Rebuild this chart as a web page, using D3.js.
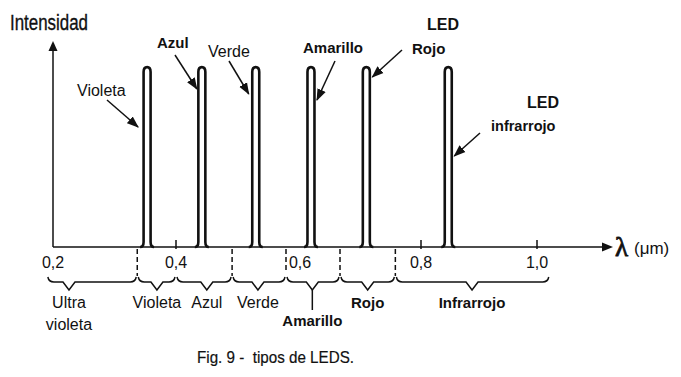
<!DOCTYPE html>
<html>
<head>
<meta charset="utf-8">
<script src="https://cdn.jsdelivr.net/npm/d3@7"></script>
<style>
  body { margin: 0; background: #fff; }
  svg { display: block; }
  text { fill: #111; font-family: "Liberation Sans", Arial, sans-serif; }
</style>
</head>
<body>
<div id="chart"></div>
<script>
// wavelength axis (µm)
var tickValues = [0.2, 0.4, 0.6, 0.8, 1.0];
var tickLabels = ["0,2", "0,4", "0,6", "0,8", "1,0"];

// LED emission peaks
var ledNames = ["Violeta", "Azul", "Verde", "Amarillo", "Rojo", "infrarrojo"];
var ledPeaks = [0.353, 0.447, 0.545, 0.637, 0.719, 0.847];
var ledIntensity = [1, 1, 1, 1, 1, 1];

// spectral bands under the axis
var bandNames = [["Ultra", "violeta"], ["Violeta"], ["Azul"], ["Verde"], ["Amarillo"], ["Rojo"], ["Infrarrojo"]];
var bandEdges = [0.19, 0.337, 0.4, 0.502, 0.6, 0.68, 0.762, 1.022];
var bandTips = [0.226, 0.369, 0.456, 0.549, 0.639, 0.721, 0.888];
var dividers = [0.337, 0.502, 0.6, 0.68, 0.762];

var W = 681, H = 377;
var svg = d3.select("#chart").append("svg")
    .attr("width", W)
    .attr("height", H);

// hand drawn axis, so a piecewise scale through the drawn ticks
var x = d3.scaleLinear().domain(tickValues).range([53, 176, 286, 421, 537]);
var y = d3.scaleLinear().domain([0, 1]).range([247, 67]);
var y0 = y(0);

// arrow head marker
svg.append("defs").append("marker")
    .attr("id", "head")
    .attr("markerUnits", "userSpaceOnUse")
    .attr("viewBox", "0 -5 12 10")
    .attr("refX", 11).attr("refY", 0)
    .attr("markerWidth", 12).attr("markerHeight", 10)
    .attr("orient", "auto")
  .append("path")
    .attr("d", "M0,-4.5L12,0L0,4.5Z")
    .attr("fill", "#111");

// axes
svg.append("line")
    .attr("x1", x(0.2)).attr("y1", y0)
    .attr("x2", x(0.2)).attr("y2", 50)
    .attr("stroke", "#111").attr("stroke-width", 1.5);
svg.append("path")
    .attr("d", "M" + x(0.2) + ",41L" + (x(0.2) - 4.5) + ",51L" + (x(0.2) + 4.5) + ",51Z")
    .attr("fill", "#111");

svg.append("line")
    .attr("x1", x(0.2)).attr("y1", y0)
    .attr("x2", 602).attr("y2", y0)
    .attr("stroke", "#111").attr("stroke-width", 1.5);
svg.append("path")
    .attr("d", "M613," + y0 + "L602," + (y0 - 4.5) + "L602," + (y0 + 4.5) + "Z")
    .attr("fill", "#111");

svg.append("text")
    .attr("x", 10).attr("y", 30)
    .attr("font-size", 22)
    .attr("textLength", 78).attr("lengthAdjust", "spacingAndGlyphs")
    .attr("stroke", "#111").attr("stroke-width", 0.35)
    .text("Intensidad");

svg.append("text")
    .attr("x", 615).attr("y", 256)
    .attr("font-size", 27)
    .attr("stroke", "#111").attr("stroke-width", 0.8)
    .style("font-family", "'Liberation Serif', 'Times New Roman', serif")
    .text("λ");
svg.append("text")
    .attr("x", 634).attr("y", 254)
    .attr("font-size", 17)
    .text("(μm)");

// ticks above the axis (0,4 0,8 1,0)
svg.selectAll(".tick")
    .data(tickValues.filter(function(d) { return d == 0.4 || d >= 0.8; }))
  .enter().append("line")
    .attr("x1", function(d) { return x(d); })
    .attr("x2", function(d) { return x(d); })
    .attr("y1", y0 - 7).attr("y2", y0 + 2)
    .attr("stroke", "#111").attr("stroke-width", 1.5);

svg.selectAll(".tickLabel")
    .data(tickValues)
  .enter().append("text")
    .attr("x", function(d) { return x(d) + (d == 0.6 ? 14 : 0); })
    .attr("y", 268)
    .attr("text-anchor", "middle")
    .attr("font-size", 16)
    .text(function(d, i) { return tickLabels[i]; });

// dashed band dividers
svg.selectAll(".divider")
    .data(dividers)
  .enter().append("line")
    .attr("x1", function(d) { return x(d); })
    .attr("x2", function(d) { return x(d); })
    .attr("y1", y0 + 2)
    .attr("y2", function(d) { return d == 0.6 ? 270 : 276; })
    .attr("stroke", "#111").attr("stroke-width", 1.5)
    .style("stroke-dasharray", "5, 3");

// LED peaks - narrow double-line spikes
function peakPath(w, v) {
    var cx = x(w), top = y(v), h = 3.5;
    var p = d3.path();
    p.moveTo(cx - 7, y0);
    p.quadraticCurveTo(cx - h, y0, cx - h, y0 - 5);
    p.lineTo(cx - h, top + 5);
    p.bezierCurveTo(cx - h, top - 1.5, cx + h, top - 1.5, cx + h, top + 5);
    p.lineTo(cx + h, y0 - 5);
    p.quadraticCurveTo(cx + h, y0, cx + 7, y0);
    return p.toString();
}

svg.selectAll(".peak")
    .data(ledPeaks)
  .enter().append("path")
    .attr("d", function(d, i) { return peakPath(d, ledIntensity[i]); })
    .attr("fill", "none")
    .attr("stroke", "#111")
    .attr("stroke-width", 2.6);

// peak labels + arrows (tip offset from peak centre)
var notes = [
    { tx: 77,  ty: 96,  bold: false, size: 16,   ax: 107, ay: 100, dx: -9, by: 127 },
    { tx: 157, ty: 48,  bold: true,  size: 15,   ax: 175, ay: 55,  dx: -5, by: 89 },
    { tx: 208, ty: 57,  bold: false, size: 16,   ax: 229, ay: 61,  dx: -7, by: 94 },
    { tx: 303, ty: 53,  bold: true,  size: 15,   ax: 335, ay: 61,  dx: 6,  by: 100 },
    { tx: 412, ty: 54,  bold: true,  size: 15,   ax: 402, ay: 50,  dx: 6,  by: 77 },
    { tx: 491, ty: 131, bold: true,  size: 14.5, ax: 480, ay: 133, dx: 6,  by: 156 }
];

var g = svg.selectAll(".note")
    .data(notes)
  .enter().append("g");

g.append("text")
    .attr("x", function(d) { return d.tx; })
    .attr("y", function(d) { return d.ty; })
    .attr("font-size", function(d) { return d.size; })
    .attr("font-weight", function(d) { return d.bold ? "bold" : "normal"; })
    .text(function(d, i) { return ledNames[i]; });

g.append("line")
    .attr("x1", function(d) { return d.ax; })
    .attr("y1", function(d) { return d.ay; })
    .attr("x2", function(d, i) { return x(ledPeaks[i]) + d.dx; })
    .attr("y2", function(d) { return d.by; })
    .attr("stroke", "#111").attr("stroke-width", 1.5)
    .attr("marker-end", "url(#head)");

svg.append("text").attr("x", 427).attr("y", 30)
    .attr("font-size", 16).attr("font-weight", "bold").text("LED");
svg.append("text").attr("x", 527).attr("y", 108)
    .attr("font-size", 16).attr("font-weight", "bold").text("LED");

// braces under the axis
function bracePath(a, b, t) {
    var x0 = x(a) + 1, x1 = x(b) - 1, xt = x(t), yb = 282;
    var p = d3.path();
    p.moveTo(x0, 277);
    p.quadraticCurveTo(x0 + 1, yb, x0 + 6, yb);
    p.lineTo(xt - 6, yb);
    p.lineTo(xt, yb + 8);
    p.lineTo(xt + 6, yb);
    p.lineTo(x1 - 6, yb);
    p.quadraticCurveTo(x1 - 1, yb, x1, 277);
    return p.toString();
}

svg.selectAll(".brace")
    .data(bandNames)
  .enter().append("path")
    .attr("d", function(d, i) { return bracePath(bandEdges[i], bandEdges[i + 1], bandTips[i]); })
    .attr("fill", "none")
    .attr("stroke", "#111")
    .attr("stroke-width", 1.5);

// Amarillo label hangs lower on a short stem
svg.append("line")
    .attr("x1", x(bandTips[4])).attr("x2", x(bandTips[4]))
    .attr("y1", 290).attr("y2", 310)
    .attr("stroke", "#111").attr("stroke-width", 1.5);

var bandBold = [false, false, false, false, true, true, true];
svg.selectAll(".bandLabel")
    .data(bandNames)
  .enter().append("text")
    .attr("x", function(d, i) { return x(bandTips[i]); })
    .attr("y", function(d, i) { return i == 4 ? 326 : 308; })
    .attr("text-anchor", "middle")
    .attr("font-size", function(d, i) { return bandBold[i] ? 15 : 16; })
    .attr("font-weight", function(d, i) { return bandBold[i] ? "bold" : "normal"; })
    .each(function(d) {
        var t = d3.select(this);
        d.forEach(function(line, k) {
            t.append("tspan")
                .attr("x", t.attr("x"))
                .attr("dy", k == 0 ? 0 : 22)
                .text(line);
        });
    });

// caption
svg.append("text")
    .attr("x", 197).attr("y", 363)
    .attr("font-size", 17)
    .attr("textLength", 157).attr("lengthAdjust", "spacingAndGlyphs")
    .attr("stroke", "#111").attr("stroke-width", 0.2)
    .style("white-space", "pre")
    .text("Fig. 9 -  tipos de LEDS.");
</script>
</body>
</html>
